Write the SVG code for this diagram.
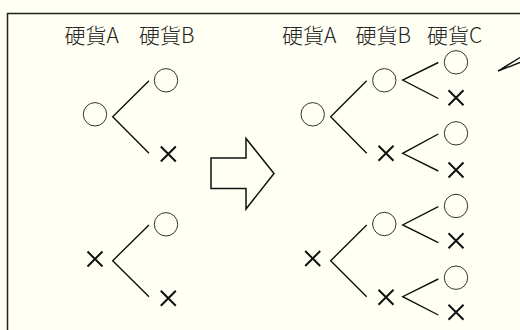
<svg xmlns="http://www.w3.org/2000/svg" width="520" height="330" viewBox="0 0 520 330">
<style>
.lbl{font-family:"Noto Sans CJK JP","Noto Sans",sans-serif;font-size:21px;font-weight:300;fill:#222}
.o{fill:none;stroke:#333;stroke-width:1}
.x{stroke:#111;stroke-width:2;fill:none}
.ln{stroke:#111;stroke-width:1.4;fill:none}
</style>
<defs>
<circle id="oc" r="11.7" class="o"/>
<path id="xx" d="M-7.5,-7.5L7.5,7.5M7.5,-7.5L-7.5,7.5" class="x"/>
</defs>
<rect width="520" height="330" fill="#fffff4"/>
<path d="M7.5,330V13.5H520" fill="none" stroke="#222" stroke-width="1.5"/>
<g id="labels-left">
<text class="lbl" x="64.5" y="43">硬貨A</text>
<text class="lbl" x="139" y="43">硬貨B</text>
</g>
<g id="labels-right">
<text class="lbl" x="282" y="43">硬貨A</text>
<text class="lbl" x="355.5" y="43">硬貨B</text>
<text class="lbl" x="427" y="43">硬貨C</text>
</g>
<g id="connectors" class="ln">
<path d="M149,80.7L112.7,116.7L149,153.3"/>
<path d="M149,225L112.7,260.7L149,296.7"/>
<path d="M366.7,80.7L330.7,116.7L366.7,153.3"/>
<path d="M366.7,225L330.7,260.7L366.7,296.7"/>
<path d="M438.3,62.5L402.7,80L438.3,98.5"/>
<path d="M438.3,134L402.7,153.3L438.3,171"/>
<path d="M438.3,206.7L402.7,225L438.3,242.7"/>
<path d="M438.3,279L402.7,296.7L438.3,315"/>
<path d="M520,57.5L498,71L520,62.5"/>
</g>
<g id="arrow"><polygon points="211,158 246,158 246,138.5 274,173.5 246,209 246,188.5 211,188.5" fill="none" stroke="#111" stroke-width="1.5"/></g>
<g id="t1-root"><use href="#oc" x="95" y="114.3"/></g>
<g id="t1-o"><use href="#oc" x="166" y="80.3"/></g>
<g id="t1-x"><use href="#xx" x="168.3" y="154"/></g>
<g id="t2-root"><use href="#xx" x="95" y="259"/></g>
<g id="t2-o"><use href="#oc" x="166" y="224.3"/></g>
<g id="t2-x"><use href="#xx" x="168.3" y="298.3"/></g>
<g id="r-root1"><use href="#oc" x="312.7" y="114.3"/></g>
<g id="r-root2"><use href="#xx" x="312.7" y="258.5"/></g>
<g id="r-b1"><use href="#oc" x="384.3" y="80.3"/></g>
<g id="r-b2"><use href="#xx" x="386" y="153.3"/></g>
<g id="r-b3"><use href="#oc" x="384.3" y="224"/></g>
<g id="r-b4"><use href="#xx" x="386" y="297.3"/></g>
<g id="r-c1"><use href="#oc" x="456" y="62.3"/></g>
<g id="r-c2"><use href="#xx" x="456" y="97.7"/></g>
<g id="r-c3"><use href="#oc" x="456" y="133.3"/></g>
<g id="r-c4"><use href="#xx" x="456" y="170"/></g>
<g id="r-c5"><use href="#oc" x="456" y="206"/></g>
<g id="r-c6"><use href="#xx" x="456" y="240.7"/></g>
<g id="r-c7"><use href="#oc" x="456" y="277.7"/></g>
<g id="r-c8"><use href="#xx" x="456" y="312.3"/></g>
</svg>
